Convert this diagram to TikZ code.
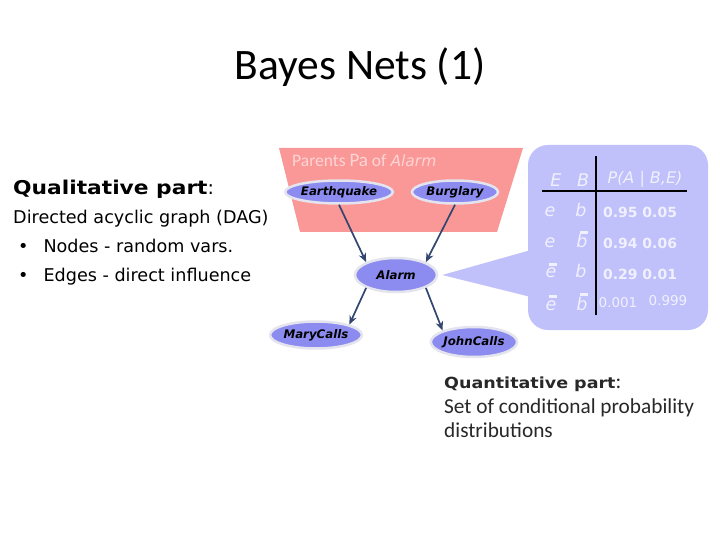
\documentclass[tikz,border=0pt]{standalone}
\usepackage{fontspec}
\setmainfont{Carlito}
\newfontfamily\leftfont{DejaVu Sans}
\newfontfamily\nfont{DejaVu Sans}
\usetikzlibrary{shapes.geometric,arrows.meta}
\definecolor{pinkbg}{RGB}{250,152,152}
\definecolor{pinktxt}{RGB}{255,212,212}
\definecolor{nodefill}{RGB}{140,140,240}
\definecolor{nodeedge}{RGB}{228,228,238}
\definecolor{callout}{RGB}{192,192,250}
\definecolor{tabtxt}{RGB}{240,240,255}
\definecolor{arr}{RGB}{50,70,112}
\definecolor{rtxt}{RGB}{40,40,40}
% #1 = raise, #2 = letter
\newcommand\barred[2]{\leavevmode\rlap{\hspace{0.22em}\raisebox{#1}{\rule{0.42em}{0.2em}}}#2}
\newcommand\widebold[1]{\scalebox{1.145}[1]{\leftfont\bfseries #1}}
\tikzset{
  bn/.style={ellipse, fill=nodefill, draw=nodeedge, line width=2.5bp, inner sep=0pt,
     font=\nfont\bfseries\itshape\fontsize{11.8bp}{13bp}\selectfont},
  edge/.style={draw=arr, line width=1.7bp, -{Stealth[length=9bp,width=7.5bp]}},
  lt/.style={anchor=base west, inner sep=0pt, font=\leftfont\fontsize{17.6bp}{20bp}\selectfont},
  rt/.style={anchor=base west, inner sep=0pt, text=rtxt, font=\fontsize{21.3bp}{24bp}\selectfont},
  tl/.style={inner sep=0pt, text=tabtxt, font=\nfont\itshape\fontsize{17.5bp}{20bp}\selectfont},
  tn/.style={inner sep=0pt, text=tabtxt, font=\nfont\bfseries\fontsize{14bp}{16bp}\selectfont},
  tns/.style={inner sep=0pt, text=tabtxt, font=\nfont\fontsize{13.5bp}{16bp}\selectfont},
}
\begin{document}
\begin{tikzpicture}[x=1bp,y=-1bp]
\useasboundingbox (0,0) rectangle (720,540);
\fill[white] (0,0) rectangle (720,540);
% title
\node[inner sep=0pt, font=\fontsize{43.5bp}{48bp}\selectfont] (title) at (360,67) {Bayes Nets (1)};
% pink trapezoid
\fill[pinkbg] (279,148) -- (523,148) -- (497,232) -- (300,232) -- cycle;
\node[anchor=base west, inner sep=0pt, text=pinktxt, font=\fontsize{17.5bp}{18bp}\selectfont] (parents) at (292,167)
  {Parents {\fontsize{19bp}{20bp}\selectfont Pa} of {\nfont\itshape\fontsize{15.5bp}{18bp}\selectfont Alarm}};
% callout
\fill[callout, rounded corners=20bp] (528,145) rectangle (708,330);
% nodes
\node[bn, minimum width=92bp, minimum height=23bp] (eq) at (339,192) {Earthquake};
\node[bn, minimum width=86bp, minimum height=23bp] (bu) at (455,192) {Burglary};
\node[bn, minimum width=82bp, minimum height=34bp] (al) at (396,275) {Alarm};
\node[bn, minimum width=76bp, minimum height=27bp] (mc) at (316,335) {MaryCalls};
\node[bn, minimum width=84bp, minimum height=30bp] (jc) at (474,342) {JohnCalls};
\fill[callout] ([xshift=4bp]al.east) -- (531,250) -- (531,297) -- cycle;
% edges
\draw[edge] (eq.south) -- (al.north west);
\draw[edge] (bu.south) -- (al.north east);
\draw[edge] (al.south west) -- (mc.north east);
\draw[edge] (al.south east) -- (jc.north west);
% table
\coordinate (vt) at (596,156);
\coordinate (vb) at (596,315);
\coordinate (hl) at (542,191);
\coordinate (hr) at (687,191);
\draw[black, line width=2.5bp] (vt) -- (vb);
\draw[black, line width=2.5bp] (hl) -- (hr);
\node[tl] (hE) at (556,180) {E};
\node[tl] (hB) at (583,180) {B};
\node[tl, font=\nfont\itshape\fontsize{16bp}{18bp}\selectfont] (hP) at (645,179) {P(A | B,E)};
\node[tl, anchor=base] (r1e) at (550,217) {e};
\node[tl, anchor=base] (r1b) at (581,217) {b};
\node[tn] (r1p) at (640,212) {0.95 0.05};
\node[tl, anchor=base] (r2e) at (550,248) {e};
\node[tl, anchor=base] (r2b) at (582,248) {\barred{0.78em}{b}};
\node[tn] (r2p) at (640,243) {0.94 0.06};
\node[tl, anchor=base] (r3e) at (551,278) {\barred{0.66em}{e}};
\node[tl, anchor=base] (r3b) at (581,278) {b};
\node[tn] (r3p) at (640,274) {0.29 0.01};
\node[tl, anchor=base] (r4e) at (551,310) {\barred{0.66em}{e}};
\node[tl, anchor=base] (r4b) at (582,310) {\barred{0.78em}{b}};
\node[tns] (r4p) at (618,303) {0.001};
\node[tns] (r4q) at (668,301) {0.999};
% left text
\node[lt] (q1) at (13,195) {\fontsize{19bp}{20bp}\selectfont\widebold{Qualitative part}:};
\node[lt] (q2) at (13,224) {Directed acyclic graph (DAG)};
\node[lt] (q3) at (18,253) {\textbullet\hspace{0.85em}Nodes - random vars.};
\node[lt] (q4) at (18,282) {\textbullet\hspace{0.85em}Edges - direct influence};
% right text
\node[rt] (p1) at (444,388) {{\fontsize{15.3bp}{20bp}\selectfont\widebold{Quantitative part}}:};
\node[rt] (p2) at (444,413) {Set of conditional probability};
\node[rt] (p3) at (444,437) {distributions};
\end{tikzpicture}
\end{document}
